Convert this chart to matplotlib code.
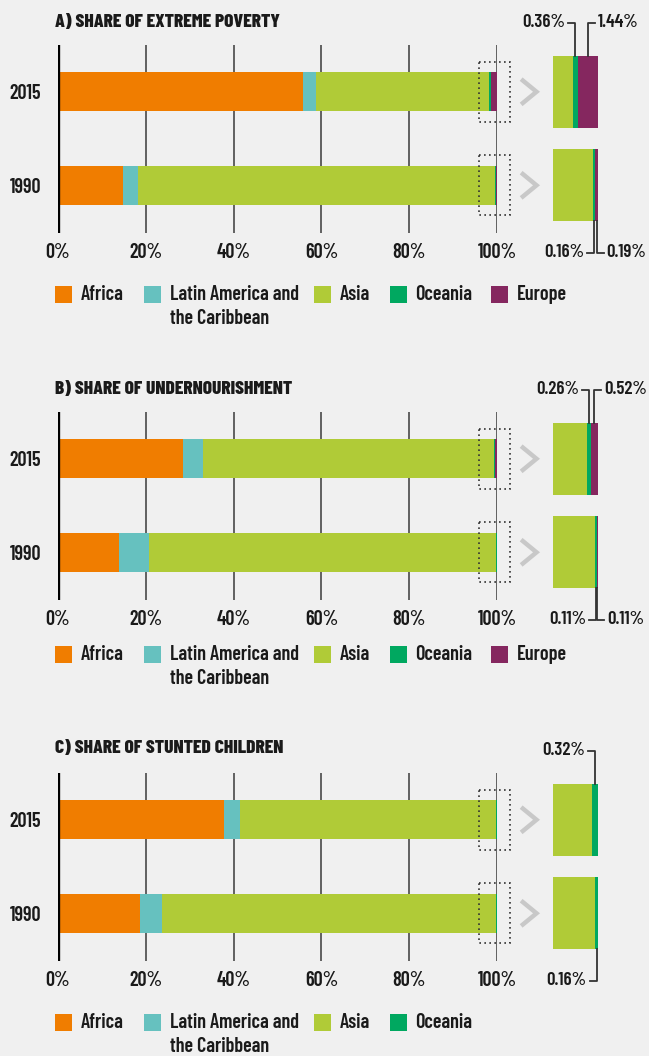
import numpy as np
import matplotlib
matplotlib.use("Agg")
import matplotlib.pyplot as plt
from matplotlib.patches import Rectangle

plt.rcParams['font.family'] = ['Barlow Condensed', 'DejaVu Sans']
plt.rcParams['font.weight'] = 600

# shares of each region (%), order: Africa, Latin America, Asia, Oceania, Europe
regions = ['Africa', 'Latin America and\nthe Caribbean', 'Asia', 'Oceania', 'Europe']
years = ['2015', '1990']

poverty_2015 = [55.8, 2.9, 39.5, 0.36, 1.44]
poverty_1990 = [14.9, 3.3, 81.45, 0.16, 0.19]
hunger_2015 = [28.5, 4.5, 66.22, 0.26, 0.52]
hunger_1990 = [13.9, 6.8, 79.08, 0.11, 0.11]
stunting_2015 = [37.8, 3.7, 58.18, 0.32]
stunting_1990 = [18.7, 5.0, 76.14, 0.16]

titles = ['A) SHARE OF EXTREME POVERTY',
          'B) SHARE OF UNDERNOURISHMENT',
          'C) SHARE OF STUNTED CHILDREN']
panels = [(poverty_2015, poverty_1990),
          (hunger_2015, hunger_1990),
          (stunting_2015, stunting_1990)]

colors = ['#F07D00', '#66C1BF', '#B0CB37', '#00A860', '#85275F']
bg = '#F0F0F0'
ink = '#1a1a1a'

W, H = 649, 1056
fig = plt.figure(figsize=(W / 100, H / 100), dpi=100, facecolor=bg)


def box(x0, y0, x1, y1):
    return [x0 / W, 1 - y1 / H, (x1 - x0) / W, (y1 - y0) / H]


# overlay in pixel units for titles and legends
ov = fig.add_axes([0, 0, 1, 1])
ov.set_xlim(0, W)
ov.set_ylim(H, 0)
ov.axis('off')
ov.patch.set_alpha(0)

tops = [45, 412, 773]
title_y = [22, 389, 748]
legend_y = [286, 646, 1014]
inset_lo = [96.8, 96.7, 97.4]
leg_x = [55, 144, 314, 390, 491]

for p, (shares, top) in enumerate(zip(panels, tops)):
    ax = fig.add_axes(box(58, top, 497, top + 188))
    ax.set_facecolor('none')
    ax.set_xlim(0, 100)
    ax.set_ylim(1.51, -0.5)
    for s in ax.spines.values():
        s.set_visible(False)
    for g in [20, 40, 60, 80, 100]:
        ax.axvline(g, color='#3a3a3a', lw=1.1, zorder=0)
    ax.axvline(0, color='black', lw=2.4, zorder=3)

    ins = fig.add_axes(box(553, top, 598, top + 188))
    ins.set_facecolor('none')
    lo = inset_lo[p]
    ins.set_xlim(lo, 100)
    ins.set_ylim(1.51, -0.5)
    ins.axis('off')
    sx = 45 / (100 - lo)  # px per percent in the inset

    for row, vals in enumerate(shares):
        left = np.concatenate([[0], np.cumsum(vals)[:-1]])
        ax.barh(row, vals, left=left, height=0.42, color=colors[:len(vals)], zorder=2)
        ins.barh(row, vals, left=left, height=0.77, color=colors[:len(vals)])

        # dotted frame round the bar end and the chevron
        ax.add_patch(Rectangle((95.9, row - 0.32), 7.1, 0.64, fill=False,
                               ls=(0, (1, 2)), lw=1.2, ec='#333333',
                               clip_on=False, zorder=4))
        ax.plot([105.5, 109.0, 105.5], [row - 0.135, row, row + 0.135],
                color='#C8C8C8', lw=3.2, clip_on=False,
                solid_joinstyle='miter', solid_capstyle='butt')

        # callouts for the thin segments
        edge = row - 0.385 if row == 0 else row + 0.385
        ly = -0.74 if row == 0 else 1.72
        for k in range(3, len(vals)):
            cx = left[k] + vals[k] / 2
            side = -1 if k == 3 else 1
            ins.plot([cx, cx, cx + side * 7 / sx], [edge, ly, ly],
                     color='#333333', lw=1.3, clip_on=False)
            ins.text(cx + side * 10 / sx, ly, f'{vals[k]:.2f}%',
                     ha='right' if side < 0 else 'left', va='center',
                     fontsize=13.5, color=ink, clip_on=False)

    ax.set_xticks([0, 20, 40, 60, 80, 100])
    ax.set_xticklabels(['0%', '20%', '40%', '60%', '80%', '100%'])
    ax.set_yticks([0, 1])
    ax.set_yticklabels(years)
    ax.tick_params(length=0, labelsize=14.5, labelcolor=ink)
    ax.tick_params(axis='x', pad=7)
    ax.tick_params(axis='y', pad=12)

    ov.text(55, title_y[p], titles[p], fontsize=14, fontweight='heavy',
            ha='left', va='center', color=ink)

    n = len(shares[0])
    for k in range(n):
        ov.add_patch(Rectangle((leg_x[k], legend_y[p]), 17, 17,
                               color=colors[k], lw=0))
        ov.text(leg_x[k] + 25.5, legend_y[p] - 1, regions[k], fontsize=14.5,
                ha='left', va='top', color=ink, linespacing=1.3)

fig.savefig('out.png', dpi=100, facecolor=bg)
